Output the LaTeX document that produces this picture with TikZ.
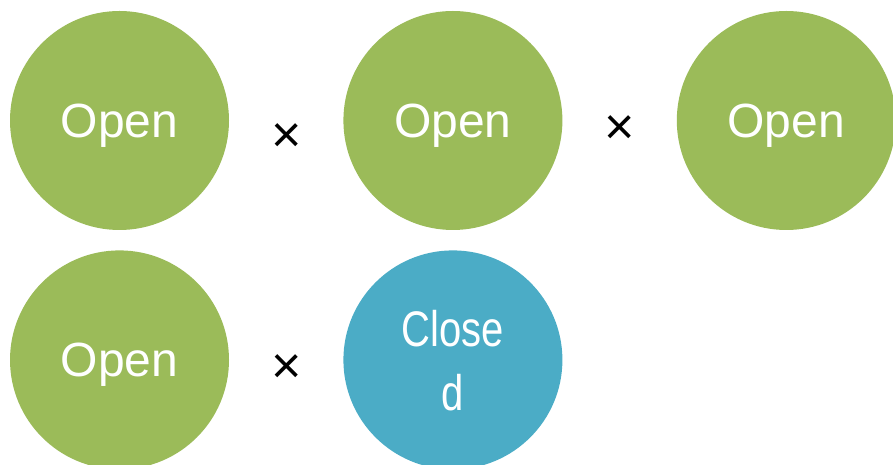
\documentclass[tikz,border=0pt]{standalone}
\usepackage{fontspec}
\setmainfont{Liberation Sans}
\newfontfamily\narrowfont[FakeStretch=0.8]{Liberation Sans}
\usepackage{tikz}
\usetikzlibrary{calc}
\usetikzlibrary{positioning}
\definecolor{opengreen}{HTML}{9BBB59}
\definecolor{closedblue}{HTML}{4BACC6}
\tikzset{
	phase/.style={circle,minimum size=219pt,inner sep=0pt,text=white,text depth=0pt,font=\fontsize{48}{58}\selectfont},
	times/.style={inner sep=0pt,font=\fontsize{52}{60}\selectfont}
}
\begin{document}
\begin{tikzpicture}[x=1pt,y=1pt,node distance=20pt and 114pt]
		\useasboundingbox (0,0) rectangle (893,465);
		\node [phase,fill=opengreen] (open1) at (119.5,344.5) {Open};
		\node [phase,fill=opengreen,right=of open1] (open2) {Open};
		\node [phase,fill=opengreen,right=of open2] (open3) {Open};
		\node [phase,fill=opengreen,below=of open1] (open4) {Open};
		\node [phase,fill=closedblue,right=of open4,align=center,font=\narrowfont\fontsize{50}{64}\selectfont] (closed) {Close\\d};

		\node [times,yshift=-18pt] (times1) at ($(open1)!0.5!(open2)$) {×};
		\node [times,yshift=-9.5pt] (times2) at ($(open2)!0.5!(open3)$) {×};
		\node [times,yshift=-9pt] (times3) at ($(open4)!0.5!(closed)$) {×};
	\end{tikzpicture}
\end{document}
